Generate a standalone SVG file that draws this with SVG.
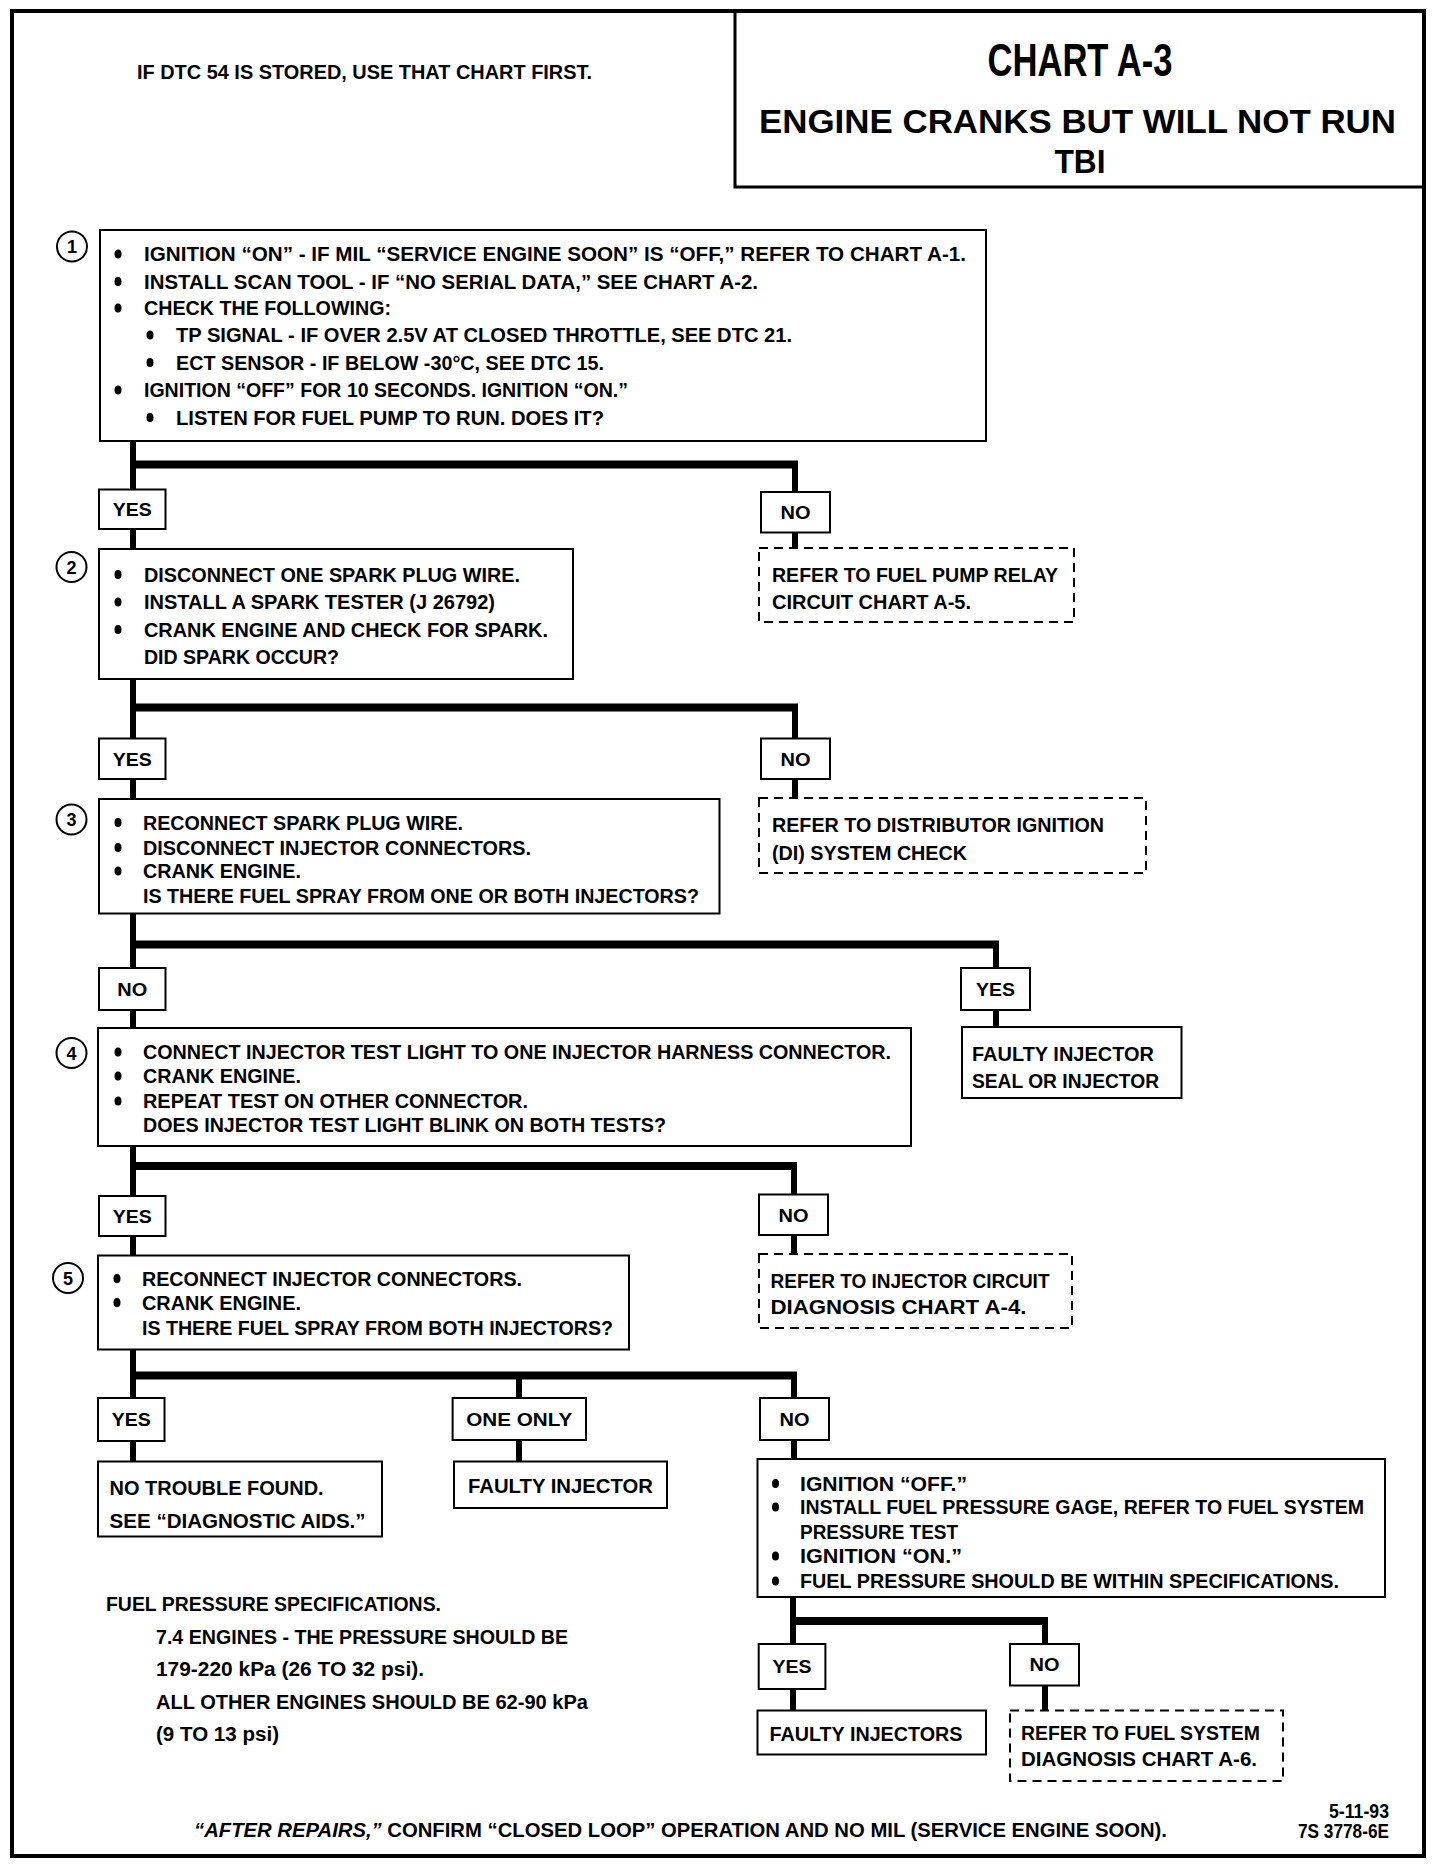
<svg xmlns="http://www.w3.org/2000/svg" width="1440" height="1868" viewBox="0 0 1440 1868">
<style>
.t{font-family:"Liberation Sans",Arial,sans-serif;font-weight:bold;font-size:20px;fill:#000}
.lb{font-family:"Liberation Sans",Arial,sans-serif;font-weight:bold;font-size:18px;fill:#000;text-anchor:middle}
.box{fill:#fff;stroke:#000;stroke-width:2}
.dbox{fill:#fff;stroke:#000;stroke-width:2;stroke-dasharray:9 6}
.num{fill:#fff;stroke:#000;stroke-width:2}
.v{stroke:#000;stroke-width:6;fill:none}
.h{stroke:#000;stroke-width:8;fill:none}
.b{fill:#000}
</style>
<rect x="0" y="0" width="1440" height="1868" fill="#fff"/>
<rect x="12" y="11" width="1412" height="1845" fill="none" stroke="#000" stroke-width="4"/>
<g id="title">
<path d="M735 11 V187 H1424" fill="none" stroke="#000" stroke-width="3"/>
<text class="t" x="1080" y="76" text-anchor="middle" style="font-size:46px" textLength="185" lengthAdjust="spacingAndGlyphs">CHART A-3</text>
<text class="t" x="1077.5" y="133" text-anchor="middle" style="font-size:34px" textLength="637" lengthAdjust="spacingAndGlyphs">ENGINE CRANKS BUT WILL NOT RUN</text>
<text class="t" x="1080" y="173" text-anchor="middle" style="font-size:34px" textLength="51" lengthAdjust="spacingAndGlyphs">TBI</text>
</g>
<g id="header-note">
<text class="t" x="137" y="79" textLength="455" lengthAdjust="spacingAndGlyphs">IF DTC 54 IS STORED, USE THAT CHART FIRST.</text>
</g>
<g id="connectors">
<line class="v" x1="133" y1="441" x2="133" y2="490"/>
<line class="h" x1="130" y1="464.5" x2="798" y2="464.5"/>
<line class="v" x1="795" y1="464.5" x2="795" y2="492"/>
<line class="v" x1="133" y1="529" x2="133" y2="549"/>
<line class="v" x1="795" y1="532" x2="795" y2="548"/>

<line class="v" x1="133" y1="679" x2="133" y2="739"/>
<line class="h" x1="130" y1="707.5" x2="798" y2="707.5"/>
<line class="v" x1="795" y1="707.5" x2="795" y2="739"/>
<line class="v" x1="133" y1="779" x2="133" y2="799"/>
<line class="v" x1="795" y1="779" x2="795" y2="798"/>

<line class="v" x1="133" y1="913" x2="133" y2="968"/>
<line class="h" x1="130" y1="944.5" x2="999" y2="944.5"/>
<line class="v" x1="996" y1="944.5" x2="996" y2="968"/>
<line class="v" x1="133" y1="1010" x2="133" y2="1028"/>
<line class="v" x1="996" y1="1010" x2="996" y2="1027"/>

<line class="v" x1="133" y1="1146" x2="133" y2="1196"/>
<line class="h" x1="130" y1="1166" x2="797" y2="1166"/>
<line class="v" x1="794" y1="1166" x2="794" y2="1195"/>
<line class="v" x1="133" y1="1236" x2="133" y2="1256"/>
<line class="v" x1="794" y1="1235" x2="794" y2="1254"/>

<line class="v" x1="133" y1="1349" x2="133" y2="1398"/>
<line class="h" x1="130" y1="1375.5" x2="797" y2="1375.5"/>
<line class="v" x1="519" y1="1375.5" x2="519" y2="1398"/>
<line class="v" x1="794" y1="1375.5" x2="794" y2="1398"/>
<line class="v" x1="133" y1="1441" x2="133" y2="1462"/>
<line class="v" x1="519" y1="1440" x2="519" y2="1462"/>
<line class="v" x1="794" y1="1440" x2="794" y2="1459"/>

<line class="v" x1="793" y1="1597" x2="793" y2="1644"/>
<line class="h" x1="790" y1="1621" x2="1048" y2="1621"/>
<line class="v" x1="1045" y1="1621" x2="1045" y2="1644"/>
<line class="v" x1="793" y1="1689" x2="793" y2="1711"/>
<line class="v" x1="1045" y1="1685" x2="1045" y2="1711"/>
</g>
<g id="step1">
<ellipse class="num" cx="72" cy="246.5" rx="15" ry="15"/>
<text class="lb" x="72" y="253">1</text>
<rect class="box" x="100" y="230" width="886" height="211"/>
<ellipse class="b" cx="118" cy="254" rx="3.5" ry="4.5"/>
<text class="t" x="144" y="261" textLength="822" lengthAdjust="spacingAndGlyphs">IGNITION “ON” - IF MIL “SERVICE ENGINE SOON” IS “OFF,”  REFER TO CHART A-1.</text>
<ellipse class="b" cx="118" cy="281.5" rx="3.5" ry="4.5"/>
<text class="t" x="144" y="288.5" textLength="614" lengthAdjust="spacingAndGlyphs">INSTALL SCAN TOOL - IF “NO SERIAL DATA,” SEE CHART A-2.</text>
<ellipse class="b" cx="118" cy="308" rx="3.5" ry="4.5"/>
<text class="t" x="144" y="315" textLength="247" lengthAdjust="spacingAndGlyphs">CHECK THE FOLLOWING:</text>
<ellipse class="b" cx="150" cy="335" rx="3.5" ry="4.5"/>
<text class="t" x="176" y="342" textLength="616" lengthAdjust="spacingAndGlyphs">TP SIGNAL - IF OVER 2.5V AT CLOSED THROTTLE,  SEE DTC 21.</text>
<ellipse class="b" cx="150" cy="362.5" rx="3.5" ry="4.5"/>
<text class="t" x="176" y="369.5" textLength="428" lengthAdjust="spacingAndGlyphs">ECT SENSOR - IF BELOW -30°C, SEE DTC 15.</text>
<ellipse class="b" cx="118" cy="390" rx="3.5" ry="4.5"/>
<text class="t" x="144" y="397" textLength="484" lengthAdjust="spacingAndGlyphs">IGNITION “OFF” FOR 10 SECONDS.  IGNITION “ON.”</text>
<ellipse class="b" cx="150" cy="417.5" rx="3.5" ry="4.5"/>
<text class="t" x="176" y="424.5" textLength="428" lengthAdjust="spacingAndGlyphs">LISTEN FOR FUEL PUMP TO RUN.  DOES IT?</text>
</g>
<g id="yes1"><rect class="box" x="99" y="489.5" width="66.5" height="39.5"/><text class="lb" x="132.3" y="516" textLength="39" lengthAdjust="spacingAndGlyphs">YES</text></g>
<g id="no1"><rect class="box" x="761" y="492" width="69" height="40.5"/><text class="lb" x="795.5" y="519" textLength="30" lengthAdjust="spacingAndGlyphs">NO</text></g>
<g id="fuel-pump-relay">
<rect class="dbox" x="759" y="548" width="315" height="74"/>
<text class="t" x="772" y="581.5" textLength="286" lengthAdjust="spacingAndGlyphs">REFER TO FUEL PUMP RELAY</text>
<text class="t" x="772" y="609" textLength="199" lengthAdjust="spacingAndGlyphs">CIRCUIT CHART A-5.</text>
</g>
<g id="step2">
<ellipse class="num" cx="71.5" cy="567" rx="15" ry="15"/>
<text class="lb" x="71.5" y="573.5">2</text>
<rect class="box" x="99" y="549" width="474" height="130"/>
<ellipse class="b" cx="118" cy="574.5" rx="3.5" ry="4.5"/>
<text class="t" x="144" y="581.5" textLength="376" lengthAdjust="spacingAndGlyphs">DISCONNECT ONE SPARK PLUG WIRE.</text>
<ellipse class="b" cx="118" cy="602" rx="3.5" ry="4.5"/>
<text class="t" x="144" y="609" textLength="351" lengthAdjust="spacingAndGlyphs">INSTALL A SPARK TESTER (J 26792)</text>
<ellipse class="b" cx="118" cy="629.5" rx="3.5" ry="4.5"/>
<text class="t" x="144" y="636.5" textLength="404" lengthAdjust="spacingAndGlyphs">CRANK ENGINE AND CHECK FOR SPARK.</text>
<text class="t" x="144" y="664" textLength="195" lengthAdjust="spacingAndGlyphs">DID SPARK OCCUR?</text>
</g>
<g id="yes2"><rect class="box" x="99" y="738.5" width="66.5" height="40.5"/><text class="lb" x="132.3" y="765.5" textLength="39" lengthAdjust="spacingAndGlyphs">YES</text></g>
<g id="no2"><rect class="box" x="761" y="738.5" width="69" height="40.5"/><text class="lb" x="795.5" y="765.5" textLength="30" lengthAdjust="spacingAndGlyphs">NO</text></g>
<g id="di-check">
<rect class="dbox" x="759" y="798" width="387" height="75"/>
<text class="t" x="772" y="831.5" textLength="332" lengthAdjust="spacingAndGlyphs">REFER TO DISTRIBUTOR IGNITION</text>
<text class="t" x="772" y="860" textLength="195" lengthAdjust="spacingAndGlyphs">(DI) SYSTEM CHECK</text>
</g>
<g id="step3">
<ellipse class="num" cx="71.5" cy="819.5" rx="15" ry="15"/>
<text class="lb" x="71.5" y="826">3</text>
<rect class="box" x="99" y="799" width="620.5" height="114.5"/>
<ellipse class="b" cx="118" cy="822.5" rx="3.5" ry="4.5"/>
<text class="t" x="143" y="829.5" textLength="320" lengthAdjust="spacingAndGlyphs">RECONNECT SPARK PLUG WIRE.</text>
<ellipse class="b" cx="118" cy="847.5" rx="3.5" ry="4.5"/>
<text class="t" x="143" y="854.5" textLength="388" lengthAdjust="spacingAndGlyphs">DISCONNECT INJECTOR CONNECTORS.</text>
<ellipse class="b" cx="118" cy="871" rx="3.5" ry="4.5"/>
<text class="t" x="143" y="878" textLength="158" lengthAdjust="spacingAndGlyphs">CRANK ENGINE.</text>
<text class="t" x="143" y="903" textLength="556" lengthAdjust="spacingAndGlyphs">IS THERE FUEL SPRAY FROM ONE OR BOTH INJECTORS?</text>
</g>
<g id="no3"><rect class="box" x="99" y="968" width="66.5" height="42"/><text class="lb" x="132.3" y="995.5" textLength="30" lengthAdjust="spacingAndGlyphs">NO</text></g>
<g id="yes3"><rect class="box" x="961" y="968" width="69" height="42"/><text class="lb" x="995.5" y="995.5" textLength="39" lengthAdjust="spacingAndGlyphs">YES</text></g>
<g id="faulty-seal">
<rect class="box" x="962" y="1027" width="219.5" height="71"/>
<text class="t" x="972" y="1060.5" textLength="182" lengthAdjust="spacingAndGlyphs">FAULTY INJECTOR</text>
<text class="t" x="972" y="1088" textLength="187" lengthAdjust="spacingAndGlyphs">SEAL OR INJECTOR</text>
</g>
<g id="step4">
<ellipse class="num" cx="71.5" cy="1053" rx="15" ry="15"/>
<text class="lb" x="71.5" y="1059.5">4</text>
<rect class="box" x="98" y="1028" width="813" height="118"/>
<ellipse class="b" cx="118" cy="1052" rx="3.5" ry="4.5"/>
<text class="t" x="143" y="1059" textLength="748" lengthAdjust="spacingAndGlyphs">CONNECT INJECTOR TEST LIGHT TO ONE INJECTOR HARNESS CONNECTOR.</text>
<ellipse class="b" cx="118" cy="1076" rx="3.5" ry="4.5"/>
<text class="t" x="143" y="1083" textLength="158" lengthAdjust="spacingAndGlyphs">CRANK ENGINE.</text>
<ellipse class="b" cx="118" cy="1101" rx="3.5" ry="4.5"/>
<text class="t" x="143" y="1108" textLength="385" lengthAdjust="spacingAndGlyphs">REPEAT TEST ON OTHER CONNECTOR.</text>
<text class="t" x="143" y="1132" textLength="523" lengthAdjust="spacingAndGlyphs">DOES INJECTOR TEST LIGHT BLINK ON BOTH TESTS?</text>
</g>
<g id="yes4"><rect class="box" x="99" y="1196" width="66.5" height="40"/><text class="lb" x="132.3" y="1222.5" textLength="39" lengthAdjust="spacingAndGlyphs">YES</text></g>
<g id="no4"><rect class="box" x="759" y="1194.5" width="69" height="40.5"/><text class="lb" x="793.5" y="1221.5" textLength="30" lengthAdjust="spacingAndGlyphs">NO</text></g>
<g id="injector-circuit">
<rect class="dbox" x="759" y="1254" width="313" height="74"/>
<text class="t" x="770.5" y="1288" textLength="279" lengthAdjust="spacingAndGlyphs">REFER TO INJECTOR CIRCUIT</text>
<text class="t" x="770.5" y="1314" textLength="256" lengthAdjust="spacingAndGlyphs">DIAGNOSIS CHART A-4.</text>
</g>
<g id="step5">
<ellipse class="num" cx="68" cy="1278" rx="15" ry="15"/>
<text class="lb" x="68" y="1284.5">5</text>
<rect class="box" x="98" y="1255.5" width="531" height="94"/>
<ellipse class="b" cx="117" cy="1278.5" rx="3.5" ry="4.5"/>
<text class="t" x="142" y="1285.5" textLength="380" lengthAdjust="spacingAndGlyphs">RECONNECT INJECTOR CONNECTORS.</text>
<ellipse class="b" cx="117" cy="1302.5" rx="3.5" ry="4.5"/>
<text class="t" x="142" y="1309.5" textLength="159" lengthAdjust="spacingAndGlyphs">CRANK ENGINE.</text>
<text class="t" x="142" y="1334.5" textLength="471" lengthAdjust="spacingAndGlyphs">IS THERE FUEL SPRAY FROM BOTH INJECTORS?</text>
</g>
<g id="yes5"><rect class="box" x="98" y="1398" width="66.5" height="43"/><text class="lb" x="131.3" y="1426" textLength="39" lengthAdjust="spacingAndGlyphs">YES</text></g>
<g id="one-only"><rect class="box" x="452.6" y="1398" width="133.4" height="42"/><text class="lb" x="519.3" y="1425.5" textLength="106" lengthAdjust="spacingAndGlyphs">ONE ONLY</text></g>
<g id="no5"><rect class="box" x="760" y="1398" width="69" height="42"/><text class="lb" x="794.5" y="1425.5" textLength="30" lengthAdjust="spacingAndGlyphs">NO</text></g>
<g id="no-trouble">
<rect class="box" x="98" y="1461.5" width="284" height="75"/>
<text class="t" x="109.6" y="1495" textLength="214" lengthAdjust="spacingAndGlyphs">NO TROUBLE FOUND.</text>
<text class="t" x="109.6" y="1527.5" textLength="256" lengthAdjust="spacingAndGlyphs">SEE “DIAGNOSTIC AIDS.”</text>
</g>
<g id="faulty-injector">
<rect class="box" x="454" y="1461.5" width="213" height="46.5"/>
<text class="t" x="468" y="1493" textLength="185" lengthAdjust="spacingAndGlyphs">FAULTY INJECTOR</text>
</g>
<g id="pressure-test">
<rect class="box" x="757.5" y="1459" width="627.5" height="138"/>
<ellipse class="b" cx="775.5" cy="1483.5" rx="3.5" ry="4.5"/>
<text class="t" x="800" y="1490.5" textLength="167" lengthAdjust="spacingAndGlyphs">IGNITION “OFF.”</text>
<ellipse class="b" cx="775.5" cy="1507" rx="3.5" ry="4.5"/>
<text class="t" x="800" y="1514" textLength="564" lengthAdjust="spacingAndGlyphs">INSTALL FUEL PRESSURE GAGE, REFER TO FUEL SYSTEM</text>
<text class="t" x="800" y="1539" textLength="158" lengthAdjust="spacingAndGlyphs">PRESSURE TEST</text>
<ellipse class="b" cx="775.5" cy="1556" rx="3.5" ry="4.5"/>
<text class="t" x="800" y="1563" textLength="162" lengthAdjust="spacingAndGlyphs">IGNITION “ON.”</text>
<ellipse class="b" cx="775.5" cy="1581" rx="3.5" ry="4.5"/>
<text class="t" x="800" y="1588" textLength="539" lengthAdjust="spacingAndGlyphs">FUEL PRESSURE SHOULD BE WITHIN SPECIFICATIONS.</text>
</g>
<g id="yes6"><rect class="box" x="758.7" y="1644" width="66.7" height="45"/><text class="lb" x="792" y="1673" textLength="39" lengthAdjust="spacingAndGlyphs">YES</text></g>
<g id="no6"><rect class="box" x="1010" y="1644" width="69" height="41.5"/><text class="lb" x="1044.5" y="1671" textLength="30" lengthAdjust="spacingAndGlyphs">NO</text></g>
<g id="faulty-injectors">
<rect class="box" x="757.5" y="1710.5" width="228.5" height="44"/>
<text class="t" x="769.5" y="1740.5" textLength="193" lengthAdjust="spacingAndGlyphs">FAULTY INJECTORS</text>
</g>
<g id="fuel-system-diag">
<rect class="dbox" x="1010" y="1710.5" width="273" height="70.5"/>
<text class="t" x="1021" y="1739.5" textLength="239" lengthAdjust="spacingAndGlyphs">REFER TO FUEL SYSTEM</text>
<text class="t" x="1021" y="1765.5" textLength="236" lengthAdjust="spacingAndGlyphs">DIAGNOSIS CHART A-6.</text>
</g>
<g id="fuel-specs">
<text class="t" x="106" y="1610.5" textLength="335" lengthAdjust="spacingAndGlyphs">FUEL PRESSURE SPECIFICATIONS.</text>
<text class="t" x="156" y="1644" textLength="412" lengthAdjust="spacingAndGlyphs">7.4 ENGINES - THE PRESSURE SHOULD BE</text>
<text class="t" x="156" y="1676" textLength="268" lengthAdjust="spacingAndGlyphs">179-220 kPa (26 TO 32 psi).</text>
<text class="t" x="156" y="1708.5" textLength="432" lengthAdjust="spacingAndGlyphs">ALL OTHER ENGINES SHOULD BE 62-90 kPa</text>
<text class="t" x="156" y="1740.5" textLength="123" lengthAdjust="spacingAndGlyphs">(9 TO 13 psi)</text>
</g>
<g id="footer">
<text class="t" x="194" y="1837" textLength="973" lengthAdjust="spacingAndGlyphs"><tspan font-style="italic">“AFTER REPAIRS,”</tspan> CONFIRM “CLOSED LOOP” OPERATION AND NO MIL (SERVICE ENGINE SOON).</text>
<text class="t" x="1389" y="1818" text-anchor="end" textLength="60" lengthAdjust="spacingAndGlyphs">5-11-93</text>
<text class="t" x="1389" y="1838" text-anchor="end" textLength="91" lengthAdjust="spacingAndGlyphs">7S 3778-6E</text>
</g>
</svg>
